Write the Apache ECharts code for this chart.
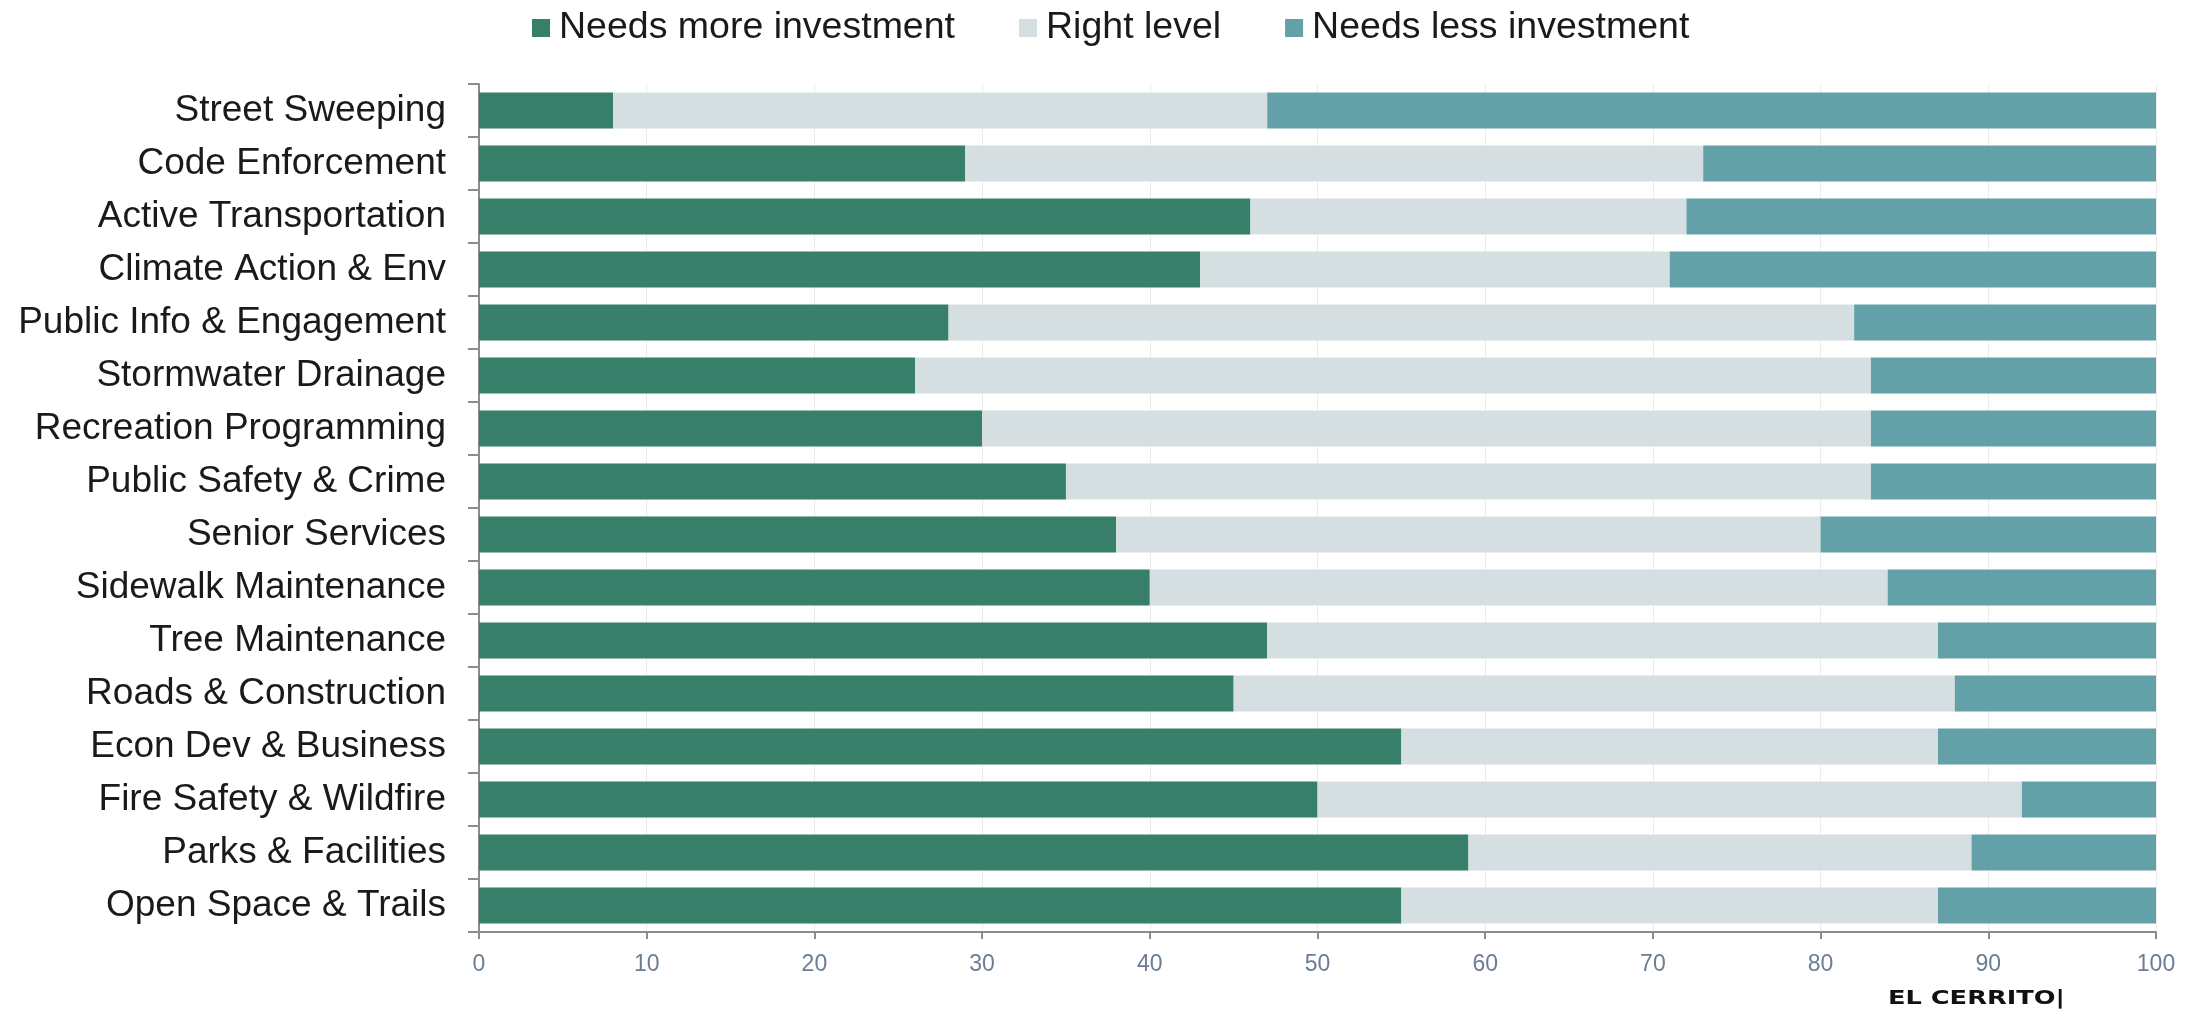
<!DOCTYPE html>
<html>
<head>
<meta charset="utf-8">
<title>Investment priorities by service area</title>
<script src="https://cdn.jsdelivr.net/npm/echarts@6/dist/echarts.min.js"></script>
<style>
  html, body { margin: 0; padding: 0; background: #ffffff; }
  #chart { width: 2201px; height: 1009px; }
</style>
</head>
<body>
<div id="chart"></div>
<script>
// Service areas, listed top to bottom
const categories = [
  'Street Sweeping',
  'Code Enforcement',
  'Active Transportation',
  'Climate Action & Env',
  'Public Info & Engagement',
  'Stormwater Drainage',
  'Recreation Programming',
  'Public Safety & Crime',
  'Senior Services',
  'Sidewalk Maintenance',
  'Tree Maintenance',
  'Roads & Construction',
  'Econ Dev & Business',
  'Fire Safety & Wildfire',
  'Parks & Facilities',
  'Open Space & Trails'
];

// Share of respondents (%) per answer
const needsMore = [8, 29, 46, 43, 28, 26, 30, 35, 38, 40, 47, 45, 55, 50, 59, 55];
const rightLevel = [39, 44, 26, 28, 54, 57, 53, 48, 42, 44, 40, 43, 32, 42, 30, 32];
const needsLess = [53, 27, 28, 29, 18, 17, 17, 17, 20, 16, 13, 12, 13, 8, 11, 13];

const seriesNames = ['Needs more investment', 'Right level', 'Needs less investment'];
const seriesColors = ['#377f69', '#d5dfe1', '#63a0a7'];
const xTicks = { min: 0, max: 100, step: 10 };

const chart = echarts.init(document.getElementById('chart'), null, { renderer: 'canvas' });

const labelFont = 'Liberation Sans, Arial, Helvetica, sans-serif';

const option = {
  backgroundColor: '#ffffff',
  animation: false,
  legend: {
    left: 527,
    top: 4,
    itemWidth: 18,
    itemHeight: 18,
    itemGap: 64,
    icon: 'rect',
    textStyle: {
      fontFamily: labelFont,
      fontSize: 37.5,
      color: '#1a1a1a',
      padding: [0, 0, 0, 4]
    },
    data: seriesNames
  },
  grid: {
    left: 479,
    right: 45,
    top: 84,
    bottom: 77,
    containLabel: false
  },
  xAxis: {
    type: 'value',
    min: xTicks.min,
    max: xTicks.max,
    interval: xTicks.step,
    axisLine: { show: true, lineStyle: { color: '#8c8c8c', width: 2 } },
    axisTick: { show: true, length: 7, lineStyle: { color: '#8c8c8c', width: 2 } },
    axisLabel: {
      margin: 21,
      fontFamily: labelFont,
      fontSize: 23,
      color: '#6b7c95'
    },
    splitLine: { show: true, lineStyle: { color: '#ececec', width: 1 } }
  },
  yAxis: {
    type: 'category',
    inverse: true,
    data: categories,
    axisLine: { show: true, lineStyle: { color: '#8c8c8c', width: 2 } },
    axisTick: { show: true, length: 11, lineStyle: { color: '#8c8c8c', width: 2 } },
    axisLabel: {
      margin: 33,
      fontFamily: labelFont,
      fontSize: 37,
      color: '#1a1a1a'
    },
    splitLine: { show: false }
  },
  series: [needsMore, rightLevel, needsLess].map((values, i) => ({
    name: seriesNames[i],
    type: 'bar',
    stack: 'total',
    barWidth: 36,
    itemStyle: { color: seriesColors[i] },
    emphasis: { disabled: true },
    data: values
  })),
  graphic: [
    {
      type: 'text',
      x: 1888,
      y: 999,
      scaleX: 1.35,
      style: {
        text: 'EL CERRITO|',
        fontFamily: 'DejaVu Sans',
        fontWeight: 'bold',
        fontSize: 19,
        fill: '#111111',
        textAlign: 'left',
        textVerticalAlign: 'middle'
      }
    }
  ]
};

chart.setOption(option);
</script>
</body>
</html>
